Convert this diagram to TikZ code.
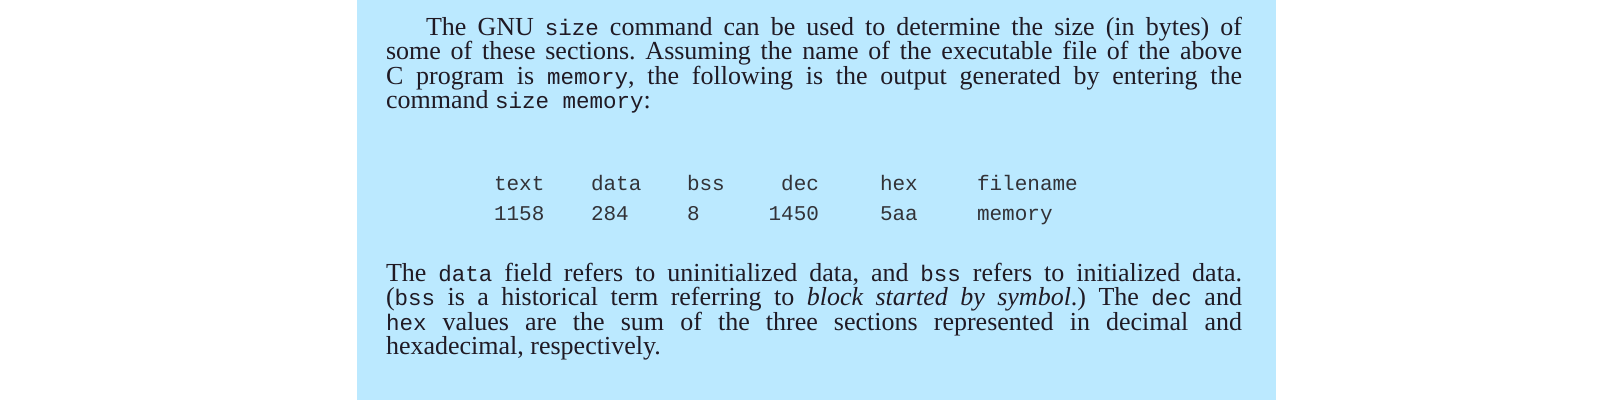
\documentclass[tikz,border=0pt]{standalone}
\usepackage{fontspec}
\setmainfont{Liberation Serif}
\setmonofont{Liberation Mono}
\frenchspacing
\definecolor{boxblue}{RGB}{187,233,255}
\definecolor{ink}{RGB}{32,26,36}
\definecolor{tabink}{RGB}{50,50,55}
\tikzset{
  bodyline/.style={anchor=base west, inner sep=0pt, outer sep=0pt, text=ink,
    font=\fontsize{26}{26}\selectfont\frenchspacing},
  cell/.style={anchor=base west, inner sep=0pt, outer sep=0pt, text=tabink,
    font=\fontsize{21}{21}\selectfont\ttfamily},
  cellr/.style={cell, anchor=base east},
}
\newcommand{\mono}[1]{{\fontsize{22.5}{22.5}\selectfont\ttfamily #1}}
\begin{document}
\begin{tikzpicture}[x=1pt,y=-1pt]
\useasboundingbox (0,0) rectangle (1610,400);
\fill[boxblue] (357,0) rectangle (1276,400);
% paragraph 1
\node[bodyline] (p1a) at (426,35)    {\makebox[816pt][s]{The GNU \mono{size} command can be used to determine the size (in bytes) of}};
\node[bodyline] (p1b) at (386,59.5)  {\makebox[856pt][s]{some of these sections. Assuming the name of the executable file of the above}};
\node[bodyline] (p1c) at (386,84)    {\makebox[856pt][s]{C program is \mono{memory}, the following is the output generated by entering the}};
\node[bodyline] (p1d) at (386,108.5) {command \mono{size memory}:};
% table
\node[cell]  (h1) at (494,190) {text};
\node[cell]  (h2) at (591,190) {data};
\node[cell]  (h3) at (687,190) {bss};
\node[cellr] (h4) at (819,190) {dec};
\node[cell]  (h5) at (880,190) {hex};
\node[cell]  (h6) at (977,190) {filename};
\node[cell]  (v1) at (494,220) {1158};
\node[cell]  (v2) at (591,220) {284};
\node[cell]  (v3) at (687,220) {8};
\node[cellr] (v4) at (819,220) {1450};
\node[cell]  (v5) at (880,220) {5aa};
\node[cell]  (v6) at (977,220) {memory};
% paragraph 2
\node[bodyline] (p2a) at (386,281)   {\makebox[856pt][s]{The \mono{data} field refers to uninitialized data, and \mono{bss} refers to initialized data.}};
\node[bodyline] (p2b) at (386,305.5) {\makebox[856pt][s]{(\mono{bss} is a historical term referring to \textit{block started by symbol}.) The \mono{dec} and}};
\node[bodyline] (p2c) at (386,330)   {\makebox[856pt][s]{\mono{hex} values are the sum of the three sections represented in decimal and}};
\node[bodyline] (p2d) at (386,354.5) {hexadecimal, respectively.};
\end{tikzpicture}
\end{document}
